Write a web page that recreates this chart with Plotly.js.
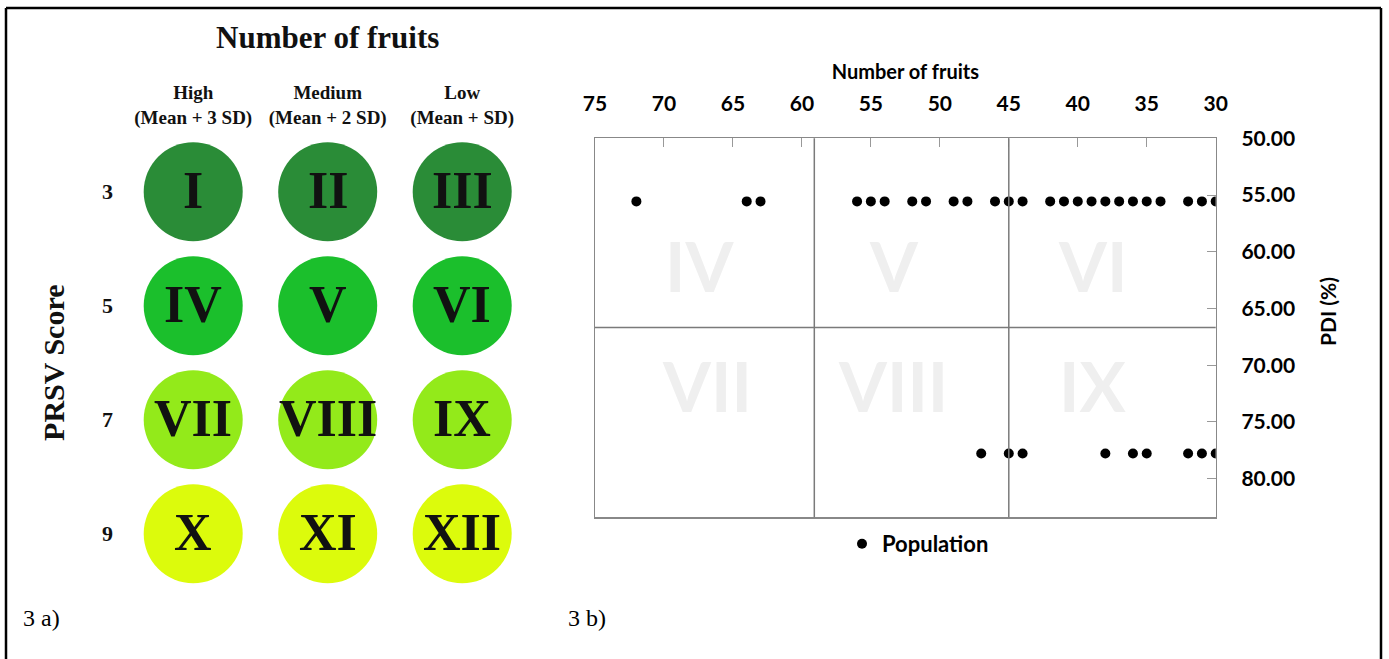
<!DOCTYPE html>
<html><head><meta charset="utf-8">
<script src="https://cdn.plot.ly/plotly-3.0.1.min.js"></script>
<style>html,body{margin:0;padding:0;background:#fff;}#chart{width:1389px;height:659px;}</style>
</head><body><div id="chart"></div>
<script>
// ---------- Panel 3 a) : grouping scheme ----------
const fruitClasses = ["High<br>(Mean + 3 SD)", "Medium<br>(Mean + 2 SD)", "Low<br>(Mean + SD)"];
const prsvScores = [3, 5, 7, 9];
const groupLabels = [["I", "II", "III"], ["IV", "V", "VI"], ["VII", "VIII", "IX"], ["X", "XI", "XII"]];
const rowColors = ["#2a8c37", "#1bbf2c", "#93ea1a", "#dcfb0c"];

// ---------- Panel 3 b) : population scatter ----------
const pdiLevels = [55.56, 77.78];
const fruitsAtPDI55 = [72, 64, 63, 56, 55, 54, 52, 51, 49, 48, 46, 45, 44, 42, 41, 40, 39, 38, 37, 36, 35, 34, 32, 31, 30];
const fruitsAtPDI78 = [47, 45, 44, 38, 36, 35, 32, 31, 30];
const fruitCuts = [59.1, 45];
const pdiCuts = [66.67];
const zoneNames = ["IV", "V", "VI", "VII", "VIII", "IX"];
const zoneFruits = [67.4, 53.3, 38.9, 66.9, 53.4, 38.9];
const zonePDI = [61.2, 61.2, 61.2, 71.75, 71.75, 71.75];

// build tables
const cx = [], cy = [], ct = [], cc = [];
prsvScores.forEach((s, r) => {
  fruitClasses.forEach((f, c) => {
    cx.push(c + 1); cy.push(s); ct.push(groupLabels[r][c]); cc.push(rowColors[r]);
  });
});
const px = fruitsAtPDI55.concat(fruitsAtPDI78);
const py = fruitsAtPDI55.map(() => pdiLevels[0]).concat(fruitsAtPDI78.map(() => pdiLevels[1]));

const serif = "Liberation Serif, Times New Roman, serif";
const sans = "Lato, Open Sans, sans-serif";
const W = 1389, H = 659;
const fx = p => p / W, fy = p => (H - p) / H;

const traces = [
  {
    type: "scatter", mode: "markers", x: cx, y: cy,
    xaxis: "x2", yaxis: "y2", showlegend: false, hoverinfo: "skip",
    marker: {size: 99, color: cc, line: {width: 0}}
  },
  {
    type: "scatter", mode: "markers", x: px, y: py, name: "Population",
    xaxis: "x", yaxis: "y",
    marker: {size: 10, color: "#000"}
  }
];

const shapes = [
  // outer frame
  {type: "line", xref: "paper", yref: "paper", x0: fx(6), x1: fx(6), y0: -0.02, y1: fy(8), line: {color: "#000", width: 2.5}},
  {type: "line", xref: "paper", yref: "paper", x0: fx(6), x1: fx(1381), y0: fy(8), y1: fy(8), line: {color: "#000", width: 2.5}},
  {type: "line", xref: "paper", yref: "paper", x0: fx(1381), x1: fx(1381), y0: -0.02, y1: fy(8), line: {color: "#000", width: 2.5}}
];
fruitCuts.forEach(v => shapes.push({type: "line", xref: "x", yref: "y domain", x0: v, x1: v, y0: 0, y1: 1, line: {color: "#7a7a7a", width: 1.5}}));
pdiCuts.forEach(v => shapes.push({type: "line", xref: "x domain", yref: "y", x0: 0, x1: 1, y0: v, y1: v, line: {color: "#7a7a7a", width: 1.5}}));

const annotations = zoneNames.map((n, i) => ({
  text: n, x: zoneFruits[i], y: zonePDI[i], xref: "x", yref: "y", showarrow: false,
  font: {family: sans, size: 69, color: "#efefef", weight: "bold"}
}));
// roman numerals inside the circles (positioned on the circle axes)
cx.forEach((x, i) => annotations.push({
  text: ct[i], x: x, y: cy[i], xref: "x2", yref: "y2", showarrow: false, yshift: 1,
  xanchor: "center", yanchor: "middle",
  font: {family: serif, size: 52, color: "#111", weight: "bold"}
}));
annotations.push(
  {text: "PDI (%)", xref: "paper", yref: "paper", x: fx(1327), y: fy(312), xanchor: "center", yanchor: "middle",
   showarrow: false, textangle: -90, font: {family: sans, size: 21, color: "#000", weight: "bold"}},
  {text: "3 a)", xref: "paper", yref: "paper", x: fx(21), y: fy(618), xanchor: "left", yanchor: "middle", showarrow: false,
   font: {family: serif, size: 24, color: "#000"}},
  {text: "3 b)", xref: "paper", yref: "paper", x: fx(566), y: fy(618), xanchor: "left", yanchor: "middle", showarrow: false,
   font: {family: serif, size: 24, color: "#000"}}
);

const layout = {
  width: W, height: H, margin: {l: 0, r: 0, t: 0, b: 0},
  paper_bgcolor: "#fff", plot_bgcolor: "rgba(0,0,0,0)",
  showlegend: true,
  legend: {orientation: "h", x: fx(842), y: fy(523), xanchor: "left", yanchor: "top",
           font: {family: sans, size: 22, color: "#000", weight: "bold"}, bgcolor: "rgba(0,0,0,0)"},
  xaxis: {
    domain: [fx(595), fx(1215.7)], range: [75, 30], anchor: "y", side: "top",
    tickmode: "linear", tick0: 30, dtick: 5, ticks: "inside", ticklen: 9, tickcolor: "#999",
    showline: true, linecolor: "#888", linewidth: 1.5, mirror: true,
    showgrid: false, zeroline: false, ticklabelstandoff: 17,
    tickfont: {family: sans, size: 21, color: "#000", weight: "bold"},
    title: {text: "Number of fruits", standoff: 5, font: {family: sans, size: 20, color: "#000", weight: "bold"}}
  },
  yaxis: {
    domain: [fy(517.3), fy(138.3)], range: [83.4, 50], anchor: "x", side: "right",
    tickmode: "linear", tick0: 50, dtick: 5, tickformat: ".2f", ticks: "inside", ticklen: 9, tickcolor: "#999",
    showline: true, linecolor: "#888", linewidth: 1.5, mirror: true,
    showgrid: false, zeroline: false, ticklabelstandoff: 20,
    tickfont: {family: sans, size: 21, color: "#000", weight: "bold"}
  },
  xaxis2: {
    domain: [fx(125.95), fx(529.45)], range: [0.5, 3.5], anchor: "y2", side: "top",
    tickmode: "array", tickvals: [1, 2, 3], ticktext: fruitClasses, ticks: "",
    showline: false, showgrid: false, zeroline: false, ticklabelstandoff: 6,
    tickfont: {family: serif, size: 19, color: "#111", weight: "bold"},
    title: {text: "Number of fruits", standoff: 24, font: {family: serif, size: 31, color: "#111", weight: "bold"}}
  },
  yaxis2: {
    domain: [fy(590.7), fy(134.7)], range: [10, 2], anchor: "x2",
    tickmode: "array", tickvals: prsvScores, ticktext: prsvScores.map(String), ticks: "",
    showline: false, showgrid: false, zeroline: false, ticklabelstandoff: 12,
    tickfont: {family: serif, size: 22, color: "#111", weight: "bold"},
    title: {text: "PRSV Score", standoff: 28, font: {family: serif, size: 30, color: "#111", weight: "bold"}}
  },
  shapes: shapes,
  annotations: annotations
};

Plotly.newPlot("chart", traces, layout, {displayModeBar: false, staticPlot: true});
</script></body></html>
